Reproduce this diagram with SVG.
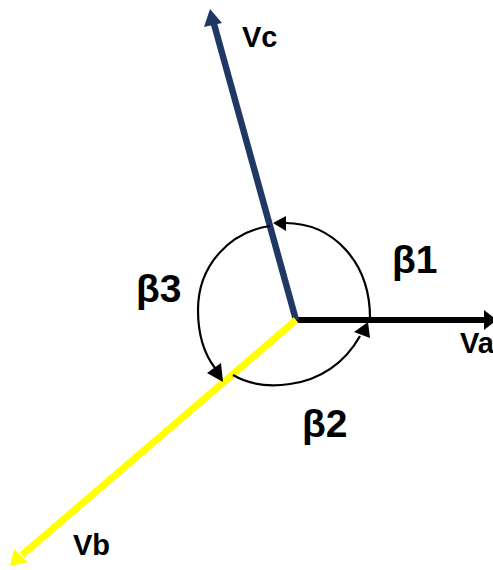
<svg xmlns="http://www.w3.org/2000/svg" width="493" height="570" viewBox="0 0 493 570">
<style>
.lbl{font-family:"Liberation Sans",Arial,sans-serif;font-weight:bold;fill:#000}
.v{font-size:29px}
.b{font-size:39px}
.arc{fill:none;stroke:#000;stroke-width:2.2}
</style>
<rect width="493" height="570" fill="#fff"/>
<g id="connectors">
  <g id="va">
    <line x1="296" y1="320" x2="486" y2="320" stroke="#000" stroke-width="6"/>
    <polygon points="484,310 497,320 484,330" fill="#000"/>
  </g>
  <g id="vc">
    <line x1="296" y1="320" x2="214" y2="24" stroke="#203864" stroke-width="6.5"/>
    <polygon points="204,27 210,9 222,23" fill="#203864"/>
  </g>
  <g id="vb">
    <line x1="296" y1="320" x2="22" y2="555" stroke="#FFFF00" stroke-width="7"/>
    <polygon points="14,549 10,566 28,562" fill="#FFFF00"/>
  </g>
  <g id="beta1-arc">
    <path class="arc" d="M370,318 C370,262 333,223 285,223"/>
    <polygon points="273,223 286,216 286,231" fill="#000"/>
  </g>
  <g id="beta3-arc">
    <path class="arc" d="M270,226 C230,232 198,265 198,310 C198,335 205,355 215,368"/>
    <polygon points="207,373 223,382 221,363" fill="#000"/>
  </g>
  <g id="beta2-arc">
    <path class="arc" d="M233,375 C250,385 270,387 290,384 C320,380 345,363 360,336"/>
    <polygon points="354,332 368,322 370,338" fill="#000"/>
  </g>
</g>
<g id="label-vc"><text class="lbl v" x="242" y="47">Vc</text></g>
<g id="label-va"><text class="lbl v" x="460" y="353">Va</text></g>
<g id="label-vb"><text class="lbl v" x="73" y="555">Vb</text></g>
<g id="label-b1"><text class="lbl b" x="392" y="273">β1</text></g>
<g id="label-b2"><text class="lbl b" x="302" y="437">β2</text></g>
<g id="label-b3"><text class="lbl b" x="136" y="302">β3</text></g>
</svg>
